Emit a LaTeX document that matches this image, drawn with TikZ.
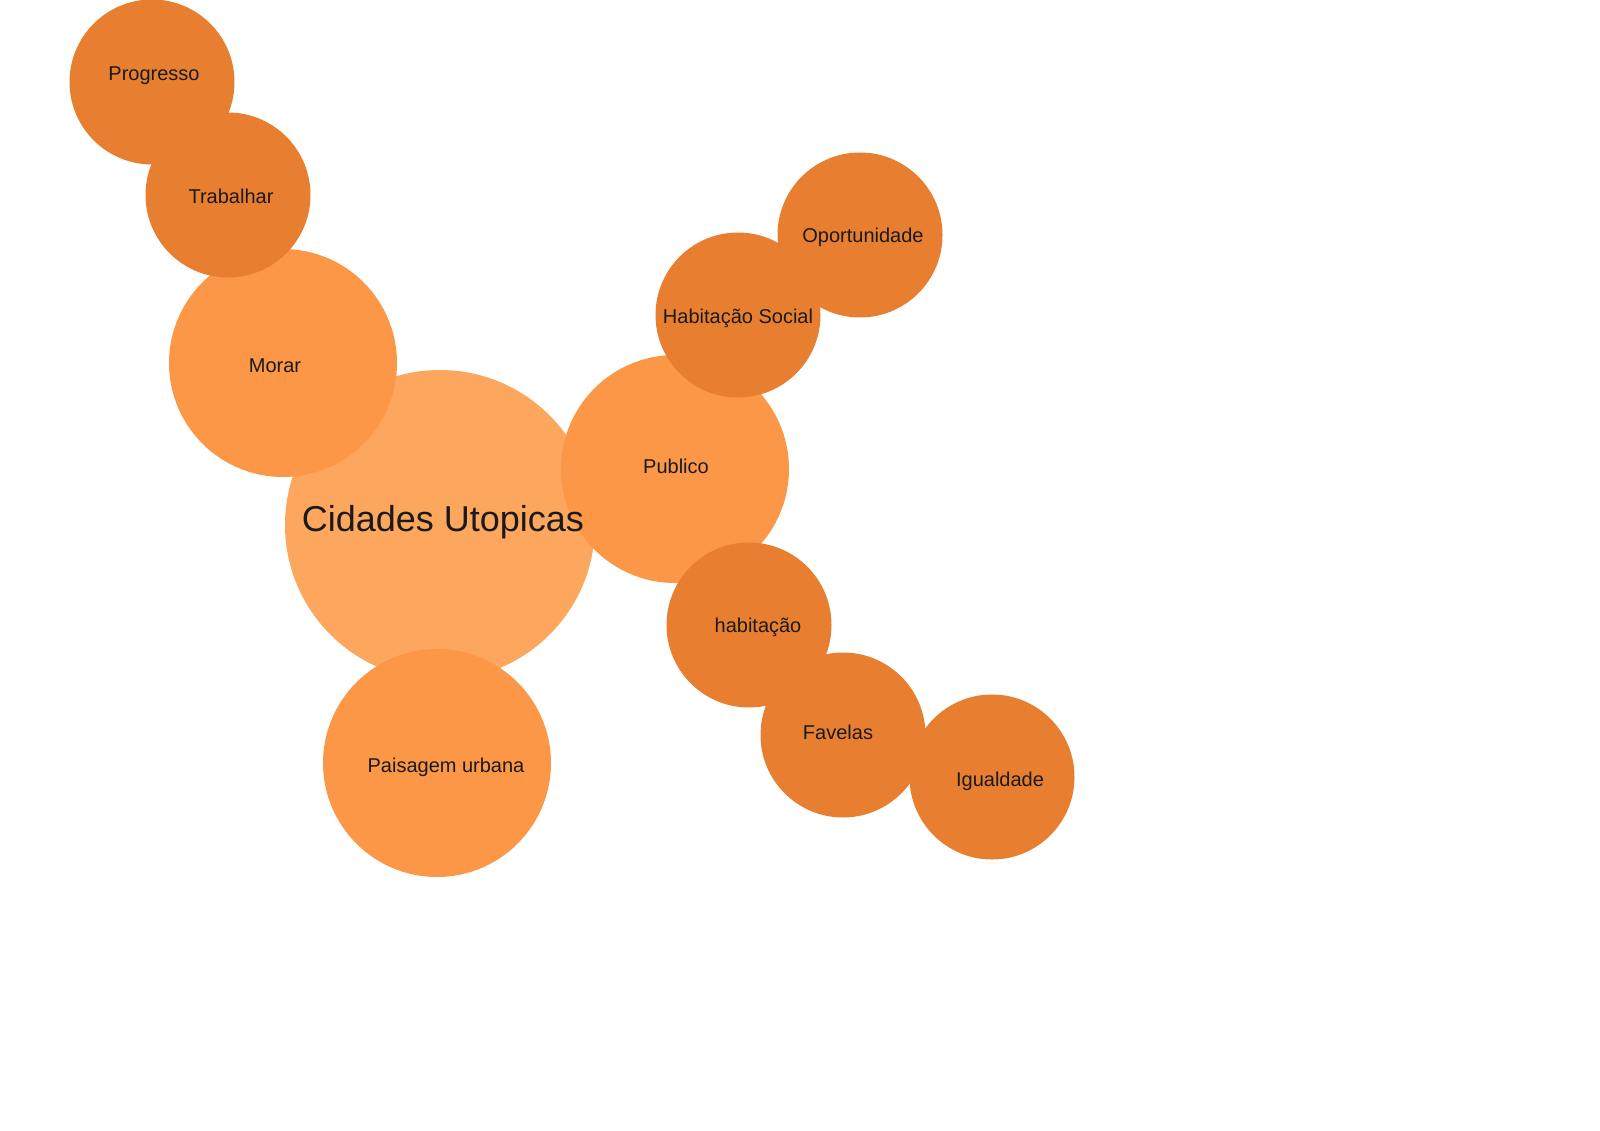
\documentclass[tikz,border=0pt]{standalone}
\usepackage{fontspec}
\setmainfont{Liberation Sans}
\definecolor{rootc}{HTML}{FDA75E}
\definecolor{lvlone}{HTML}{FB9746}
\definecolor{lvltwo}{HTML}{E87F30}
\definecolor{txtc}{HTML}{1A1A1A}
\begin{document}
\begin{tikzpicture}[x=1pt,y=-1pt,
  bubble/.style={circle,inner sep=0pt,draw=none},
  rootb/.style={bubble,fill=rootc,minimum size=310pt},
  oneb/.style={bubble,fill=lvlone,minimum size=228pt},
  twob/.style={bubble,fill=lvltwo,minimum size=165pt},
  lbl/.style={text=txtc,font=\fontsize{20}{24}\selectfont,inner sep=0pt},
  biglbl/.style={text=txtc,font=\fontsize{36}{42}\selectfont,inner sep=0pt}]
\useasboundingbox (0,0) rectangle (1600,1131);
% root
\node[rootb] (cid) at (440,525) {};
% level 1
\node[oneb] (mor) at (283,363) {};
\node[oneb] (pub) at (675,469) {};
\node[oneb] (pai) at (437,763) {};
% level 2
\node[twob] (pro) at (152,82) {};
\node[twob] (tra) at (228,195) {};
\node[twob] (opo) at (860,235) {};
\node[twob] (hso) at (738,315) {};
\node[twob] (hab) at (749,625) {};
\node[twob] (fav) at (843,735) {};
\node[twob] (igu) at (992,777) {};
% labels
\node[biglbl] (tcid) at (443,522) {Cidades Utopicas};
\node[lbl] (tmor) at (275,366) {Morar};
\node[lbl] (tpub) at (676,466) {Publico};
\node[lbl] (tpai) at (446,767) {Paisagem urbana};
\node[lbl] (tpro) at (154,76) {Progresso};
\node[lbl] (ttra) at (231,196) {Trabalhar};
\node[lbl] (topo) at (863,237) {Oportunidade};
\node[lbl] (thso) at (738,318) {Habitação Social};
\node[lbl] (thab) at (758,627) {habitação};
\node[lbl] (tfav) at (838,732) {Favelas};
\node[lbl] (tigu) at (1000,781) {Igualdade};
\end{tikzpicture}
\end{document}
